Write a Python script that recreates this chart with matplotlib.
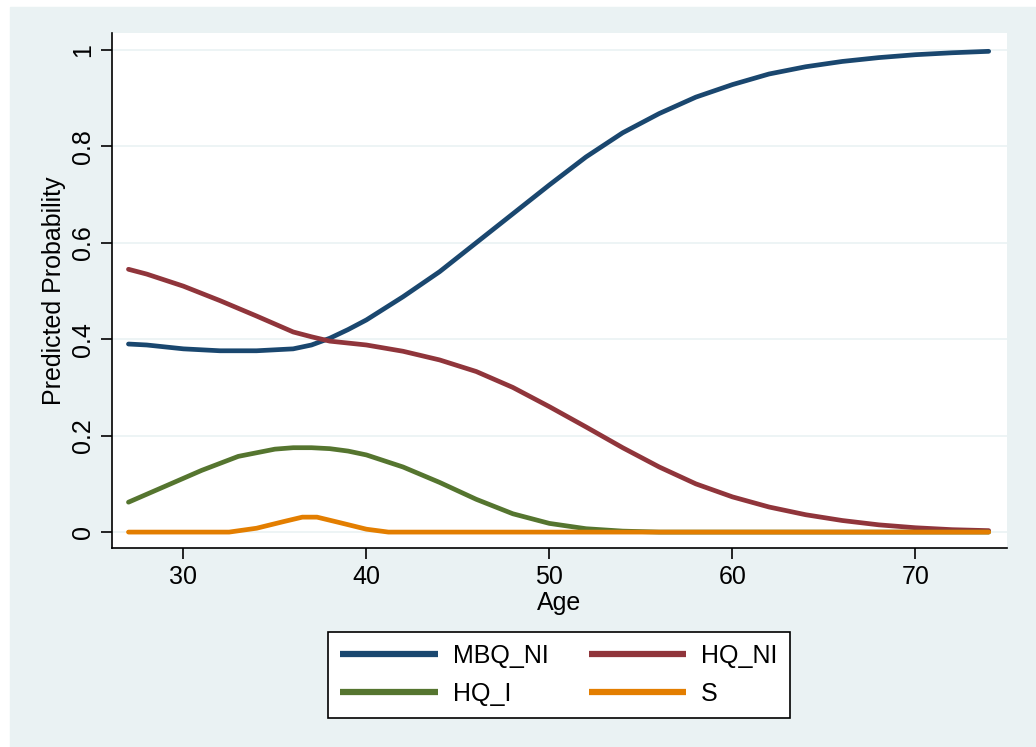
import matplotlib.pyplot as plt

plt.rcParams['font.family'] = ['Liberation Sans', 'DejaVu Sans']

# Predicted probabilities
age_mbq = [27, 28, 30, 32, 34, 36, 37, 38, 39, 40, 42, 44, 46, 48, 50, 52, 54, 56, 58, 60, 62, 64, 66, 68, 70, 72, 74]
mbq_ni = [0.390, 0.388, 0.380, 0.376, 0.376, 0.380, 0.388, 0.402, 0.420, 0.440, 0.488, 0.540, 0.600, 0.660, 0.720, 0.778, 0.828, 0.868, 0.902, 0.928, 0.950, 0.965, 0.976, 0.984, 0.990, 0.994, 0.997]

age_hq = [27, 28, 30, 32, 34, 36, 37, 38, 40, 42, 44, 46, 48, 50, 52, 54, 56, 58, 60, 62, 64, 66, 68, 70, 72, 74]
hq_ni = [0.545, 0.535, 0.510, 0.480, 0.448, 0.415, 0.405, 0.396, 0.388, 0.375, 0.357, 0.333, 0.300, 0.260, 0.218, 0.175, 0.135, 0.100, 0.073, 0.052, 0.036, 0.024, 0.015, 0.009, 0.005, 0.003]

age_hqi = [27, 29, 31, 33, 35, 36, 37, 38, 39, 40, 42, 44, 46, 48, 50, 52, 54, 56, 60, 74]
hq_i = [0.062, 0.095, 0.128, 0.157, 0.172, 0.175, 0.175, 0.173, 0.168, 0.160, 0.135, 0.103, 0.068, 0.038, 0.018, 0.007, 0.002, 0.0, 0.0, 0.0]

age_s = [27, 32.5, 34, 35.5, 36.5, 37.3, 38.5, 40, 41.2, 74]
s = [0.0, 0.0, 0.008, 0.022, 0.031, 0.031, 0.020, 0.006, 0.0, 0.0]

bg = '#EAF2F3'
fig = plt.figure(figsize=(10.36, 7.47), dpi=100)
fig.patch.set_facecolor('white')
# light background panel (Stata style)
fig.add_artist(plt.Rectangle((10 / 1036, 0), 1 - 10 / 1036, 1 - 7 / 747,
                             transform=fig.transFigure, color=bg, zorder=-10))

ax = fig.add_axes([112 / 1036, 1 - 548 / 747, (1007 - 112) / 1036, (548 - 33) / 747])
ax.set_facecolor('white')

l1, = ax.plot(age_mbq, mbq_ni, color='#1A476F', lw=3.4, label='MBQ_NI', solid_capstyle='round')
l2, = ax.plot(age_hq, hq_ni, color='#90353B', lw=3.4, label='HQ_NI', solid_capstyle='round')
l3, = ax.plot(age_hqi, hq_i, color='#55752F', lw=3.4, label='HQ_I', solid_capstyle='round')
l4, = ax.plot(age_s, s, color='#E37E00', lw=3.4, label='S', solid_capstyle='round')

ax.set_xlim(26.1, 75.0)
ax.set_ylim(-0.033, 1.035)
ax.set_xticks([30, 40, 50, 60, 70])
ax.set_yticks([0, 0.2, 0.4, 0.6, 0.8, 1])
ax.set_yticklabels(['0', '0.2', '0.4', '0.6', '0.8', '1'], rotation=90, va='center')
ax.grid(axis='y', color=bg, lw=1.2)
ax.set_axisbelow(True)
for side in ['top', 'right']:
    ax.spines[side].set_visible(False)
for side in ['left', 'bottom']:
    ax.spines[side].set_linewidth(1.2)
ax.tick_params(labelsize=18, length=8, width=1.2, pad=4)
ax.set_xlabel('Age', fontsize=18, labelpad=2)
ax.set_ylabel('Predicted Probability', fontsize=18, labelpad=4)

# row-major order as in the reference legend
leg = fig.legend([l1, l3, l2, l4], ['MBQ_NI', 'HQ_I', 'HQ_NI', 'S'], ncol=2, loc='center',
                 bbox_to_anchor=(559 / 1036, 1 - 675 / 747),
                 fontsize=18, handlelength=3.9, columnspacing=1.6, handletextpad=0.6,
                 frameon=True, fancybox=False, edgecolor='black', framealpha=1,
                 borderpad=0.5, labelspacing=0.55)
leg.get_frame().set_linewidth(1.2)
for line in leg.get_lines():
    line.set_linewidth(4.5)
    line.set_solid_capstyle('butt')

fig.savefig('out.png', dpi=100)
